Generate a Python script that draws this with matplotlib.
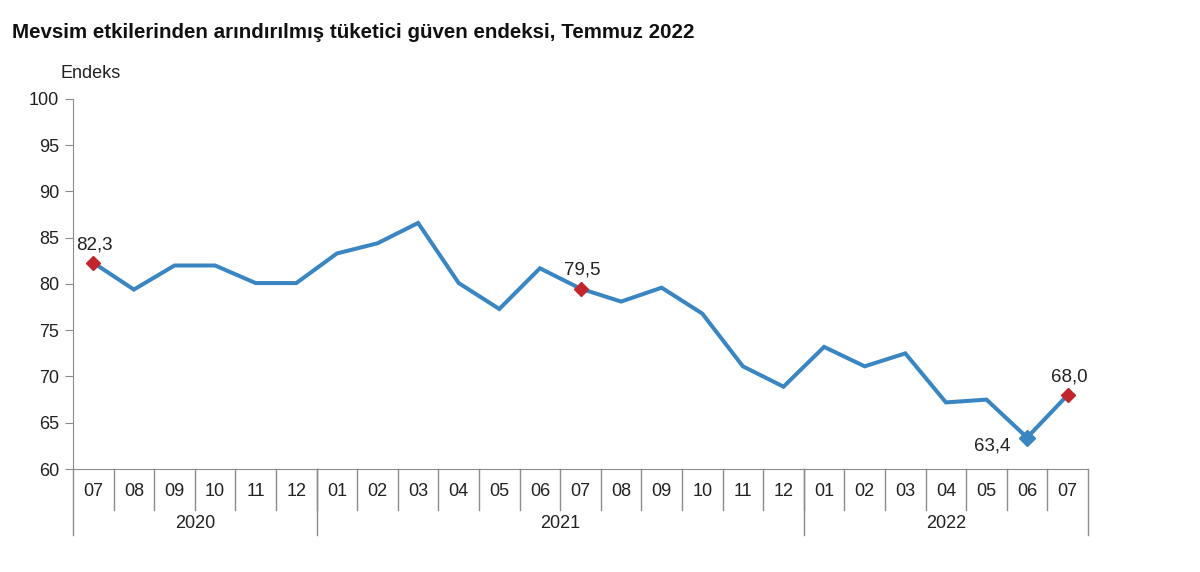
import matplotlib
matplotlib.use("Agg")
import matplotlib.pyplot as plt
import matplotlib.transforms as mtransforms

months = ['07', '08', '09', '10', '11', '12',
          '01', '02', '03', '04', '05', '06', '07', '08', '09', '10', '11', '12',
          '01', '02', '03', '04', '05', '06', '07']
years = ['2020', '2021', '2022']
year_counts = [6, 12, 7]
values = [82.3, 79.4, 82.0, 82.0, 80.1, 80.1,
          83.3, 84.4, 86.6, 80.1, 77.3, 81.7, 79.5, 78.1, 79.6, 76.8, 71.1, 68.9,
          73.2, 71.1, 72.5, 67.2, 67.5, 63.4, 68.0]
labelled = {0: '82,3', 12: '79,5', 24: '68,0'}
min_idx = 23

plt.rcParams['font.family'] = ['Liberation Sans', 'DejaVu Sans']

blue = '#3A86C2'
red = '#C0262C'
grey = '#8C8C8C'
txtc = '#222222'

fig = plt.figure(figsize=(12, 5.72), dpi=100)
ax = fig.add_axes([73/1200, 1-469/572, (1088-73)/1200, (469-99)/572])

x = list(range(len(values)))
ax.plot(x, values, color=blue, lw=2.9, solid_joinstyle='miter', zorder=3)
for i, txt in labelled.items():
    ax.plot(i, values[i], marker='D', ms=7, color=red, zorder=4)
    ax.annotate(txt, (i, values[i]), xytext=(1, 7), textcoords='offset points',
                ha='center', va='bottom', fontsize=13.5, color=txtc)
ax.plot(min_idx, values[min_idx], marker='D', ms=8, color=blue, zorder=4)
ax.annotate('63,4', (min_idx, values[min_idx]), xytext=(-12, -6), textcoords='offset points',
            ha='right', va='center', fontsize=13.5, color=txtc)

ax.set_xlim(-0.5, len(values) - 0.5)
ax.set_ylim(60, 100)
ax.set_yticks(range(60, 101, 5))
ax.tick_params(axis='y', length=6, color=grey, labelsize=13, pad=4, labelcolor=txtc)
ax.set_xticks([])
for s in ['top', 'right']:
    ax.spines[s].set_visible(False)
for s in ['left', 'bottom']:
    ax.spines[s].set_color(grey)

# category axis drawn by hand below the plot
trans = mtransforms.blended_transform_factory(ax.transData, ax.transAxes)
h = ax.get_position().height * 572
month_bottom = -(510-469) / h
year_bottom = -(535-469) / h
for i, m in enumerate(months):
    ax.text(i, -(492-469)/h, m, transform=trans, ha='center', va='center',
            fontsize=13, color=txtc)
for i in range(1, len(months)):
    ax.plot([i-0.5, i-0.5], [0, month_bottom], transform=trans, color=grey,
            lw=1, clip_on=False)
start = 0
bounds = [-0.5]
for yr, n in zip(years, year_counts):
    ax.text(start + (n-1)/2, -(523-469)/h, yr, transform=trans, ha='center',
            va='center', fontsize=13, color=txtc)
    start += n
    bounds.append(start - 0.5)
for b in bounds:
    ax.plot([b, b], [0, year_bottom], transform=trans, color=grey, lw=1, clip_on=False)

fig.text(60/1200, 1-74/572, 'Endeks', ha='left', va='center', fontsize=13, color=txtc)
fig.text(12/1200, 1-32/572, 'Mevsim etkilerinden arındırılmış tüketici güven endeksi, Temmuz 2022',
         fontsize=14.8, fontweight='bold', ha='left', va='center', color='#111111')

fig.savefig('out.png', dpi=100)
